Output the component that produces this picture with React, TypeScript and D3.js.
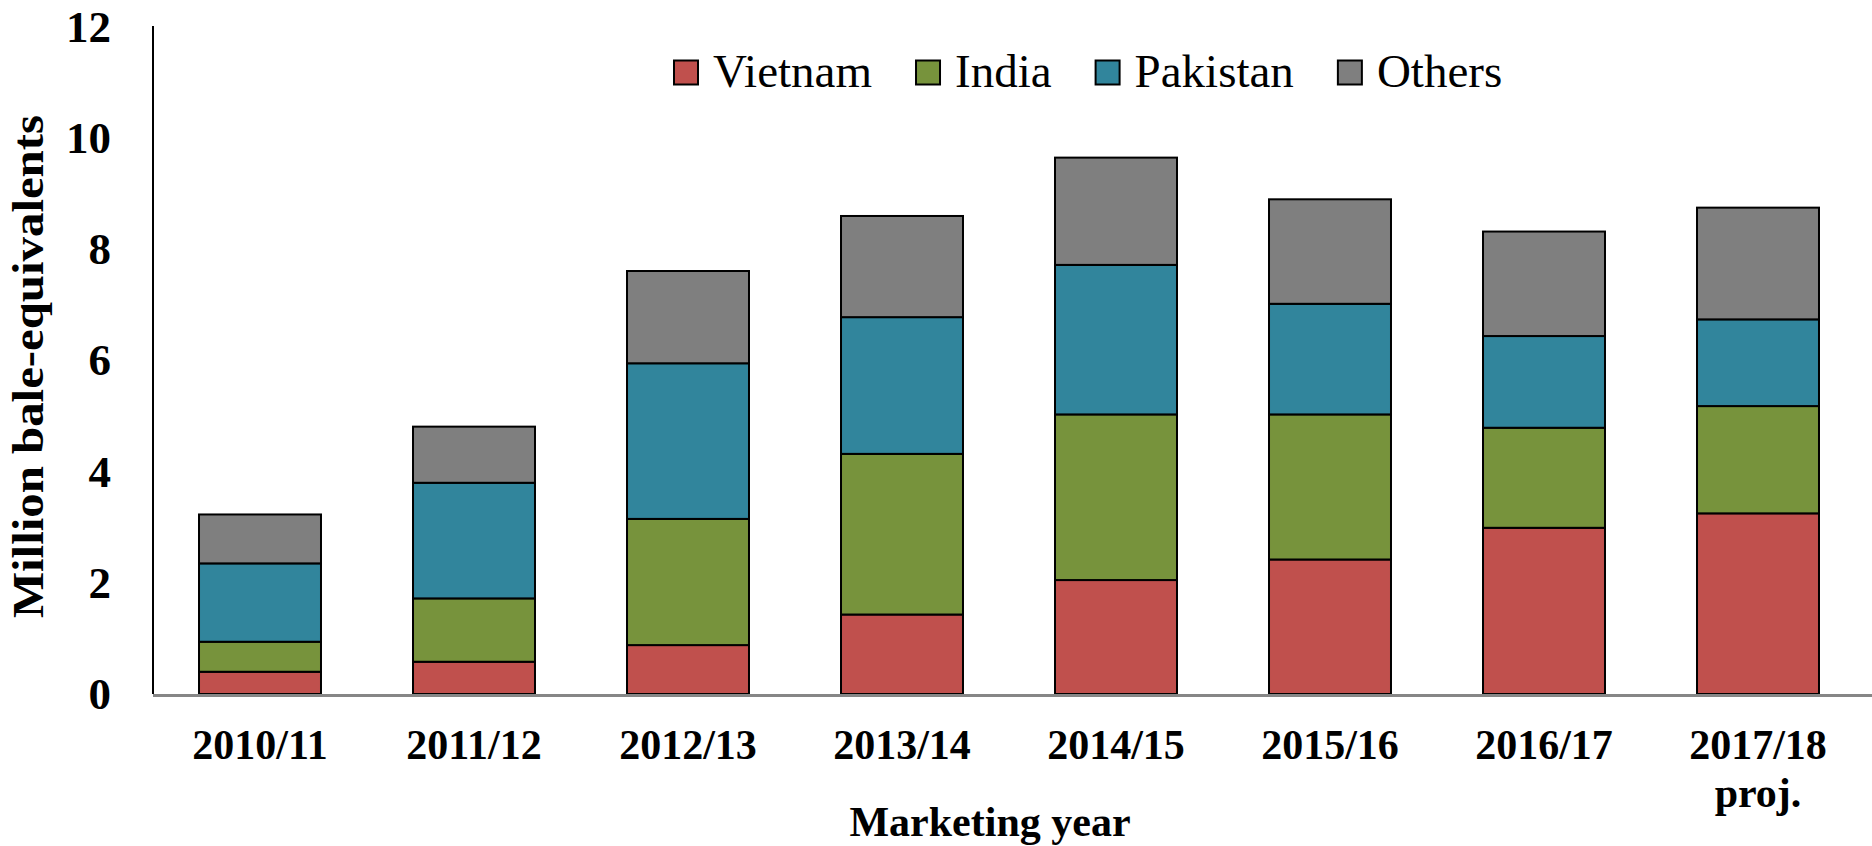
import React, { useEffect, useRef } from "react";
import * as d3 from "d3";

const categories = ["2010/11", "2011/12", "2012/13", "2013/14", "2014/15", "2015/16", "2016/17", "2017/18\nproj."];
const seriesNames = ["Vietnam", "India", "Pakistan", "Others"];
const vietnam = [0.4, 0.58, 0.88, 1.43, 2.05, 2.42, 2.99, 3.25];
const india = [0.54, 1.14, 2.27, 2.89, 2.98, 2.61, 1.8, 1.93];
const pakistan = [1.41, 2.08, 2.8, 2.46, 2.69, 1.99, 1.65, 1.56];
const others = [0.88, 1.01, 1.66, 1.82, 1.93, 1.88, 1.88, 2.01];
const seriesColors = ["#C0504D", "#77933C", "#31859C", "#7F7F7F"];
const yTicks = [0, 2, 4, 6, 8, 10, 12];

export default function App() {
  const ref = useRef<SVGSVGElement>(null);

  useEffect(() => {
    const svg = d3.select(ref.current);
    svg.selectAll("*").remove();
    const W = 1872;
    const x0 = 153, x1 = 1865, yTop = 27, yBot = 694;

    const rows = categories.map((c, i) => ({
      cat: c,
      Vietnam: vietnam[i],
      India: india[i],
      Pakistan: pakistan[i],
      Others: others[i],
    }));
    const stack = d3.stack<any>().keys(seriesNames)(rows);

    const x = d3.scaleBand().domain(categories).range([x0, x1]).paddingInner(0.43).paddingOuter(0.215);
    const y = d3.scaleLinear().domain([0, 12]).range([yBot, yTop]);

    const serif = "'Liberation Serif', 'Times New Roman', serif";

    // bars
    stack.forEach((layer, si) => {
      svg.append("g")
        .selectAll("rect")
        .data(layer)
        .join("rect")
        .attr("x", (d: any) => x(d.data.cat)!)
        .attr("width", x.bandwidth())
        .attr("y", (d: any) => y(d[1]))
        .attr("height", (d: any) => y(d[0]) - y(d[1]))
        .attr("fill", seriesColors[si])
        .attr("stroke", "#000")
        .attr("stroke-width", 2);
    });

    // axes
    svg.append("line")
      .attr("x1", x0).attr("x2", W)
      .attr("y1", yBot + 1.5).attr("y2", yBot + 1.5)
      .attr("stroke", "#868686").attr("stroke-width", 3);
    svg.append("line")
      .attr("x1", x0).attr("x2", x0)
      .attr("y1", yTop - 1).attr("y2", yBot)
      .attr("stroke", "#000").attr("stroke-width", 2);

    // y tick labels
    svg.append("g")
      .selectAll("text")
      .data(yTicks)
      .join("text")
      .attr("x", 111)
      .attr("y", (d) => y(d))
      .attr("dy", "0.33em")
      .attr("text-anchor", "end")
      .attr("font-family", serif)
      .attr("font-weight", "bold")
      .attr("font-size", 45)
      .text((d) => String(d));

    // x tick labels
    const xl = svg.append("g")
      .selectAll("text")
      .data(categories)
      .join("text")
      .attr("x", (d) => x(d)! + x.bandwidth() / 2)
      .attr("y", 759)
      .attr("text-anchor", "middle")
      .attr("font-family", serif)
      .attr("font-weight", "bold")
      .attr("font-size", 42);
    xl.each(function (d) {
      const parts = d.split("\n");
      const t = d3.select(this);
      parts.forEach((p, i) => {
        t.append("tspan")
          .attr("x", x(d)! + x.bandwidth() / 2)
          .attr("dy", i === 0 ? 0 : 48)
          .text(p);
      });
    });

    // axis titles
    svg.append("text")
      .attr("x", 990)
      .attr("y", 836)
      .attr("text-anchor", "middle")
      .attr("font-family", serif)
      .attr("font-weight", "bold")
      .attr("font-size", 42)
      .text("Marketing year");

    svg.append("text")
      .attr("transform", `translate(43, 366.5) rotate(-90)`)
      .attr("text-anchor", "middle")
      .attr("font-family", serif)
      .attr("font-weight", "bold")
      .attr("font-size", 44)
      .attr("textLength", 503)
      .attr("lengthAdjust", "spacingAndGlyphs")
      .text("Million bale-equivalents");

    // legend
    let lx = 674;
    seriesNames.forEach((name, i) => {
      const g = svg.append("g");
      g.append("rect")
        .attr("x", lx).attr("y", 60.5)
        .attr("width", 24).attr("height", 24)
        .attr("fill", seriesColors[i])
        .attr("stroke", "#000").attr("stroke-width", 2);
      const t = g.append("text")
        .attr("x", lx + 39)
        .attr("y", 86.5)
        .attr("font-family", serif)
        .attr("font-size", 47)
        .text(name);
      const tw = (t.node() as SVGTextElement).getComputedTextLength();
      lx = lx + 39 + tw + 44;
    });
  }, []);

  return (
    <svg
      ref={ref}
      width={1872}
      height={846}
      style={{ position: "fixed", left: 0, top: 0, background: "#fff" }}
    />
  );
}
